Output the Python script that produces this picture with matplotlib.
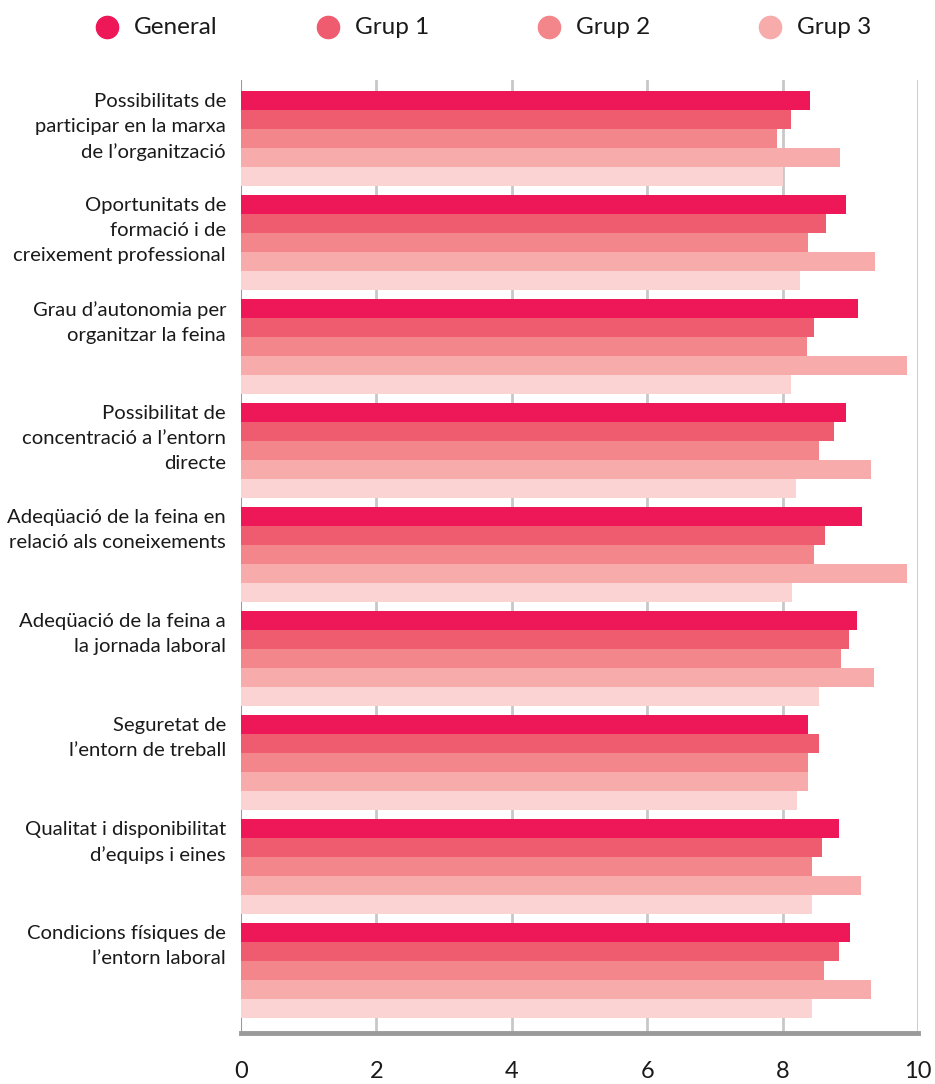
import matplotlib
matplotlib.use("Agg")
import matplotlib.pyplot as plt
import numpy as np

plt.rcParams['font.family'] = ['Lato', 'DejaVu Sans']

categories = [
    "Possibilitats de\nparticipar en la marxa\nde l\u2019organització",
    "Oportunitats de\nformació i de\ncreixement professional",
    "Grau d\u2019autonomia per\norganitzar la feina",
    "Possibilitat de\nconcentració a l\u2019entorn\ndirecte",
    "Adeqüació de la feina en\nrelació als coneixements",
    "Adeqüació de la feina a\nla jornada laboral",
    "Seguretat de\nl\u2019entorn de treball",
    "Qualitat i disponibilitat\nd\u2019equips i eines",
    "Condicions físiques de\nl\u2019entorn laboral",
]
series_names = ["General", "Grup 1", "Grup 2", "Grup 3", "Grup 4"]
general = [8.40, 8.94, 9.12, 8.94, 9.17, 9.10, 8.38, 8.84, 9.00]
grup1 = [8.13, 8.64, 8.47, 8.76, 8.63, 8.98, 8.54, 8.58, 8.84]
grup2 = [7.92, 8.37, 8.36, 8.54, 8.47, 8.86, 8.38, 8.44, 8.61]
grup3 = [8.85, 9.37, 9.84, 9.31, 9.84, 9.35, 8.38, 9.16, 9.31]
grup4 = [8.01, 8.26, 8.13, 8.20, 8.14, 8.54, 8.22, 8.44, 8.44]
legend_names = ["General", "Grup 1", "Grup 2", "Grup 3"]
xticks = [0, 2, 4, 6, 8, 10]

colors = ["#EE1758", "#F05C6F", "#F3868A", "#F7ABAB", "#FBD3D2"]
all_series = [general, grup1, grup2, grup3, grup4]

W, H = 935, 1084
fig = plt.figure(figsize=(W / 100, H / 100), dpi=100)
ax = fig.add_axes([241 / W, 1 - 1033 / H, (918 - 241) / W, (1033 - 80) / H])

bar_h = 19 / 104
y = np.arange(len(categories))
for k, (vals, c) in enumerate(zip(all_series, colors)):
    offs = (k - 2) * bar_h
    ax.barh(y + offs, vals, height=bar_h, color=c, zorder=3, linewidth=0)

ax.set_xlim(0, 10)
ax.set_ylim(8 + 0.601, -0.5625)
ax.set_xticks(xticks)
ax.set_xticklabels([str(t) for t in xticks], fontsize=17, color="#1a1a1a")
ax.tick_params(axis='x', length=0, pad=20)
ax.set_yticks([])

for t in xticks[1:]:
    ax.axvline(t, color="#c8c8c8", lw=2, zorder=1)
ax.axvline(0, color="#999999", lw=1.5, zorder=1)

for s in ["top", "right", "left"]:
    ax.spines[s].set_visible(False)
ax.spines["bottom"].set_color("#9a9a9a")
ax.spines["bottom"].set_linewidth(3.5)

# category labels, top-aligned with each group
for i, lab in enumerate(categories):
    ax.text(-0.22, i - 2.5 * bar_h + 0.02, lab, ha="right", va="top",
            fontsize=14.6, color="#1a1a1a", linespacing=1.57,
            transform=ax.transData)

# legend row: circle markers with names
lax = fig.add_axes([0, 1 - 54 / H, 1, 54 / H])
lax.set_xlim(0, W)
lax.set_ylim(54, 0)
lax.axis("off")
for j, (name, c) in enumerate(zip(legend_names, colors[:4])):
    x0 = 107 + 221 * j
    lax.plot([x0], [27], marker='o', markersize=16, color=c, linestyle='none')
    lax.text(x0 + 27, 28, name, ha="left", va="center", fontsize=17.5,
             color="#1a1a1a")

fig.savefig("out.png", dpi=100)
